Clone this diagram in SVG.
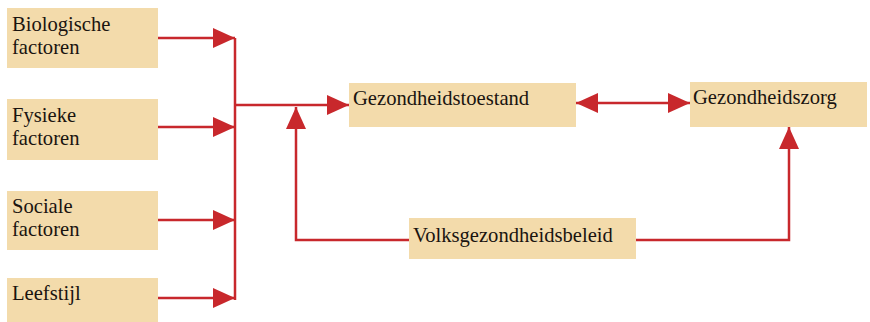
<svg xmlns="http://www.w3.org/2000/svg" width="870" height="322" viewBox="0 0 870 322">
<style>
.box{fill:#f3dbab;}
.t{font-family:'Liberation Serif','Times New Roman',serif;font-size:20.6px;fill:#1a1410;}
.c{fill:none;stroke:#c8282c;stroke-width:2.5;}
</style>
<defs>
<marker id="ah" markerUnits="userSpaceOnUse" markerWidth="22" markerHeight="20" refX="22" refY="10" orient="auto-start-reverse" viewBox="0 0 22 20">
<path d="M0,0 L22,10 L0,20 z" fill="#c8282c"/>
</marker>
</defs>
<rect width="870" height="322" fill="#ffffff"/>
<g id="connectors">
<path class="c" d="M158,38 H235" marker-end="url(#ah)"/>
<path class="c" d="M158,127 H235" marker-end="url(#ah)"/>
<path class="c" d="M158,220 H235" marker-end="url(#ah)"/>
<path class="c" d="M158,298 H235" marker-end="url(#ah)"/>
<path class="c" d="M235,38 V300"/>
<path class="c" d="M235,105 H349" marker-end="url(#ah)"/>
<path class="c" d="M409,240 H296 V107" marker-end="url(#ah)"/>
<path class="c" d="M576,103 H690" marker-start="url(#ah)" marker-end="url(#ah)"/>
<path class="c" d="M636,240 H789 V127" marker-end="url(#ah)"/>
</g>
<g id="biologische">
<rect class="box" x="7" y="8" width="151" height="60"/>
<text class="t" x="12" y="31">Biologische</text>
<text class="t" x="12" y="54">factoren</text>
</g>
<g id="fysieke">
<rect class="box" x="7" y="99" width="151" height="61"/>
<text class="t" x="12" y="122">Fysieke</text>
<text class="t" x="12" y="145">factoren</text>
</g>
<g id="sociale">
<rect class="box" x="7" y="191" width="151" height="59"/>
<text class="t" x="12" y="213">Sociale</text>
<text class="t" x="12" y="236">factoren</text>
</g>
<g id="leefstijl">
<rect class="box" x="7" y="278" width="151" height="44"/>
<text class="t" x="12" y="300">Leefstijl</text>
</g>
<g id="gezondheidstoestand">
<rect class="box" x="349" y="83" width="227" height="44"/>
<text class="t" x="353" y="105">Gezondheidstoestand</text>
</g>
<g id="gezondheidszorg">
<rect class="box" x="690" y="82" width="177" height="45"/>
<text class="t" x="693" y="104">Gezondheidszorg</text>
</g>
<g id="volksgezondheidsbeleid">
<rect class="box" x="409" y="218" width="227" height="41"/>
<text class="t" x="413" y="242">Volksgezondheidsbeleid</text>
</g>
</svg>
